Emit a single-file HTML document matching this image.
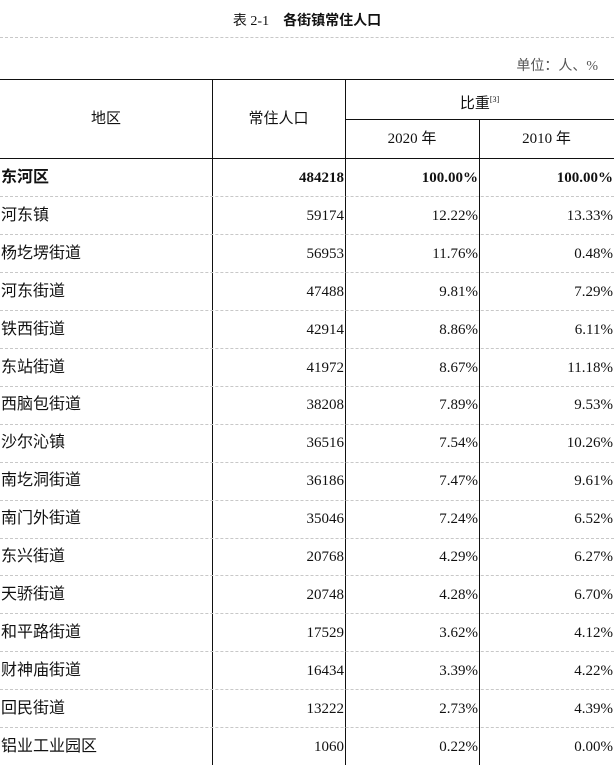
<!DOCTYPE html>
<html><head><meta charset="utf-8"><style>
body{margin:0;width:614px;height:765px;background:#fff;position:relative;overflow:hidden;font-family:"Liberation Serif","Noto Sans CJK SC",serif;color:#111}
.a{position:absolute;white-space:nowrap;line-height:20px}
.c{font-family:"Liberation Serif","Noto Sans CJK SC",sans-serif;font-size:15px}
.h{position:absolute;left:0;width:614px;border-top:1px dashed #c8c8c8;height:0}
.v{position:absolute;width:0;border-left:1.5px solid #111}
.r{position:absolute;text-align:right;font-size:15px;line-height:20px;white-space:nowrap}
</style></head><body>
<div class="a c" style="left:0;width:614px;text-align:center;top:12px;font-size:14px"><span>表 2-1</span>　<b>各街镇常住人口</b></div>
<div class="h" style="top:37px"></div>
<div class="a c" style="right:16px;top:57px;font-size:14px;color:#555">单位：人、%</div>
<div style="position:absolute;left:0;top:79px;width:614px;border-top:1.5px solid #111"></div>
<div style="position:absolute;left:345px;top:119px;width:269px;border-top:1.5px solid #111"></div>
<div style="position:absolute;left:0;top:158px;width:614px;border-top:1.5px solid #111"></div>
<div class="v" style="left:212px;top:79px;height:686px"></div>
<div class="v" style="left:345px;top:79px;height:686px"></div>
<div class="v" style="left:479px;top:119px;height:646px"></div>
<div class="a c" style="left:0;width:212px;text-align:center;top:109px">地区</div>
<div class="a c" style="left:212px;width:133px;text-align:center;top:109px">常住人口</div>
<div class="a c" style="left:345px;width:269px;text-align:center;top:90px">比重<sup style="font-size:8px">[3]</sup></div>
<div class="a c" style="left:345px;width:134px;text-align:center;top:129px">2020 年</div>
<div class="a c" style="left:479px;width:135px;text-align:center;top:129px">2010 年</div>
<div id="rows"></div>
<script>
var d=[["东河区","484218","100.00%","100.00%"],["河东镇","59174","12.22%","13.33%"],["杨圪塄街道","56953","11.76%","0.48%"],["河东街道","47488","9.81%","7.29%"],["铁西街道","42914","8.86%","6.11%"],["东站街道","41972","8.67%","11.18%"],["西脑包街道","38208","7.89%","9.53%"],["沙尔沁镇","36516","7.54%","10.26%"],["南圪洞街道","36186","7.47%","9.61%"],["南门外街道","35046","7.24%","6.52%"],["东兴街道","20768","4.29%","6.27%"],["天骄街道","20748","4.28%","6.70%"],["和平路街道","17529","3.62%","4.12%"],["财神庙街道","16434","3.39%","4.22%"],["回民街道","13222","2.73%","4.39%"],["铝业工业园区","1060","0.22%","0.00%"]];
var h="";
for(var i=0;i<d.length;i++){var t=159+i*37.9,b=i==0?"font-weight:bold;":"";
if(i>0)h+='<div class="h" style="top:'+(t-0.5)+'px"></div>';
h+='<div class="a c" style="left:1px;top:'+(t+9)+'px;font-size:16px;'+b+'">'+d[i][0]+'</div>';
h+='<div class="r" style="right:'+(614-344)+'px;top:'+(t+9)+'px;'+b+'">'+d[i][1]+'</div>';
h+='<div class="r" style="right:'+(614-478)+'px;top:'+(t+9)+'px;'+b+'">'+d[i][2]+'</div>';
h+='<div class="r" style="right:1px;top:'+(t+9)+'px;'+b+'">'+d[i][3]+'</div>';}
document.getElementById("rows").innerHTML=h;
</script>
</body></html>
